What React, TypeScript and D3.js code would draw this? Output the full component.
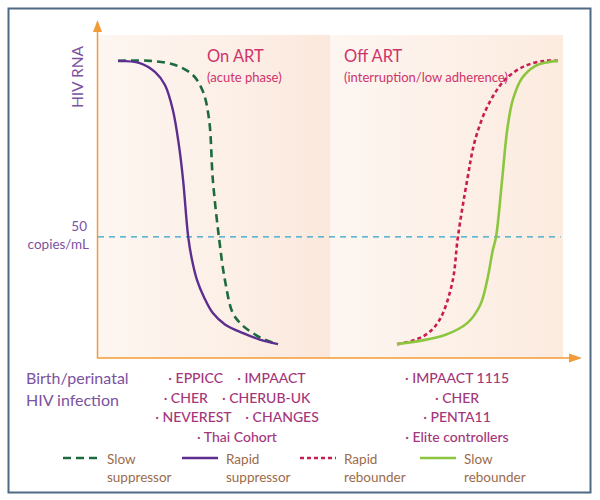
import React from "react";
import * as d3 from "d3";

// Schematic time (0-100) vs. HIV RNA level (0-100)
const rapidSuppressorX = [4.3, 9.0, 12.3, 14.4, 16.1, 17.4, 18.3, 19.4, 20.2, 21.3, 22.8, 24.7, 27.3, 31.2, 34.8, 38.7];
const rapidSuppressorY = [92, 91.3, 88.5, 84.5, 76.8, 65.9, 55.1, 37.5, 30.5, 24.1, 18.8, 13.9, 10.4, 7.7, 5.7, 4.3];

const slowSuppressorX = [4.3, 11.2, 16.6, 20.4, 22.6, 23.9, 24.7, 26.0, 27.3, 29.0, 31.0, 33.3, 36.0, 38.7];
const slowSuppressorY = [92, 92, 90.7, 87.6, 82.4, 73.7, 55.1, 37.5, 24.1, 13.9, 10.2, 7.7, 5.6, 4.3];

const rapidRebounderX = [64.3, 68.2, 71.0, 72.8, 74.2, 76.3, 77.4, 79.4, 81.1, 83.9, 87.5, 91.8, 96.1, 98.9];
const rapidRebounderY = [4.3, 5.6, 7.7, 10.4, 13.9, 24.1, 37.5, 55.1, 67.5, 78.3, 86.1, 90.4, 92, 92];

const slowRebounderX = [64.3, 69.2, 74.6, 79.4, 82.2, 83.7, 84.9, 85.6, 86.9, 88.0, 89.2, 91.2, 94.0, 96.8, 98.9];
const slowRebounderY = [4.3, 5.3, 7.1, 10.8, 16.4, 24.1, 33.4, 37.5, 55.1, 70.6, 79.9, 86.7, 90.4, 91.6, 92];

const threshold = 37.5;
const phaseSplit = 50;

const onArtStudies = ["· EPPICC    · IMPAACT", "· CHER    · CHERUB-UK", "· NEVEREST    · CHANGES", "· Thai Cohort"];
const offArtStudies = ["· IMPAACT 1115", "· CHER", "· PENTA11", "· Elite controllers"];

const legendLabels = [["Slow", "suppressor"], ["Rapid", "suppressor"], ["Rapid", "rebounder"], ["Slow", "rebounder"]];

const FONT = "Lato, 'Open Sans', sans-serif";

export default function App() {
  const x = d3.scaleLinear().domain([0, 100]).range([98, 563]);
  const y = d3.scaleLinear().domain([0, 100]).range([358, 35]);
  const line = d3
    .line<[number, number]>()
    .x((d) => x(d[0]))
    .y((d) => y(d[1]))
    .curve(d3.curveCatmullRom.alpha(0.5));
  const zip = (a: number[], b: number[]) => a.map((v, i) => [v, b[i]] as [number, number]);

  const series = [
    { pts: zip(slowSuppressorX, slowSuppressorY), color: "#1d6b3d", dash: "8,5", w: 2.6 },
    { pts: zip(rapidSuppressorX, rapidSuppressorY), color: "#5b2e90", dash: null, w: 2.4 },
    { pts: zip(rapidRebounderX, rapidRebounderY), color: "#c91d50", dash: "4,3", w: 2.6 },
    { pts: zip(slowRebounderX, slowRebounderY), color: "#8cc63f", dash: null, w: 2.6 },
  ];
  const legendX = [63, 182, 300, 420];

  return (
    <svg width={600} height={500} style={{ position: "absolute", left: 0, top: 0 }} fontFamily={FONT}>
      <defs>
        <linearGradient id="gL" x1="0" x2="1" y1="0" y2="0">
          <stop offset="0" stopColor="#fdf6f1" />
          <stop offset="0.6" stopColor="#fcefe6" />
          <stop offset="1" stopColor="#fbe8dc" />
        </linearGradient>
        <linearGradient id="gR" x1="0" x2="1" y1="0" y2="0">
          <stop offset="0" stopColor="#fdf6f1" />
          <stop offset="1" stopColor="#fcebdf" />
        </linearGradient>
      </defs>
      <rect x={0} y={0} width={600} height={500} fill="#fff" />
      <rect x={8.5} y={8.5} width={582} height={484} fill="none" stroke="#4e6a84" strokeWidth={2} />

      <rect x={x(0)} y={y(100)} width={x(phaseSplit) - x(0)} height={y(0) - y(100)} fill="url(#gL)" />
      <rect x={x(phaseSplit)} y={y(100)} width={x(100) - x(phaseSplit)} height={y(0) - y(100)} fill="url(#gR)" />

      {/* threshold */}
      <line x1={x(0)} x2={x(99.5)} y1={y(threshold)} y2={y(threshold)} stroke="#2fa3c9" strokeWidth={1.2} strokeDasharray="6,5" />

      {/* axes */}
      <line x1={x(0) - 0.5} x2={x(0) - 0.5} y1={y(0)} y2={30} stroke="#f29b38" strokeWidth={1.5} />
      <path d={`M${x(0) - 0.5},20 L${x(0) - 5},32 L${x(0) + 4},32 Z`} fill="#f29b38" />
      <line x1={x(0) - 1} x2={572} y1={y(0)} y2={y(0)} stroke="#f29b38" strokeWidth={1.5} />
      <path d={`M582,${y(0)} L569,${y(0) - 4.5} L569,${y(0) + 4.5} Z`} fill="#f29b38" />

      {series.map((s, i) => (
        <path key={i} d={line(s.pts) || ""} fill="none" stroke={s.color} strokeWidth={s.w}
          strokeDasharray={s.dash || undefined} />
      ))}

      {/* axis labels */}
      <text transform="translate(83,77) rotate(-90)" textAnchor="middle" fontSize={15.5} fill="#7b52a0">HIV RNA</text>
      <text x={87} y={231} textAnchor="end" fontSize={13.5} fill="#7b52a0">50</text>
      <text x={89} y={249} textAnchor="end" fontSize={13.5} fill="#7b52a0">copies/mL</text>

      <text x={207} y={62} fontSize={16.5} fill="#d0336b">On ART</text>
      <text x={207} y={82} fontSize={13} fill="#d0336b">(acute phase)</text>
      <text x={344} y={62} fontSize={16.5} fill="#d0336b">Off ART</text>
      <text x={344} y={82} fontSize={13} fill="#d0336b">(interruption/low adherence)</text>

      <text x={26} y={384} fontSize={16} fill="#7b52a0">Birth/perinatal</text>
      <text x={26} y={406} fontSize={16} fill="#7b52a0">HIV infection</text>

      {onArtStudies.map((t, i) => (
        <text key={t} x={237} y={383 + i * 19.7} textAnchor="middle" fontSize={14} fill="#a4367a" fontWeight={500} style={{ whiteSpace: "pre" }}>{t}</text>
      ))}
      {offArtStudies.map((t, i) => (
        <text key={t} x={457} y={383 + i * 19.7} textAnchor="middle" fontSize={14} fill="#a4367a" fontWeight={500}>{t}</text>
      ))}

      {/* legend */}
      {series.map((s, i) => (
        <g key={i}>
          <line x1={legendX[i]} x2={legendX[i] + 36} y1={458} y2={458} stroke={s.color} strokeWidth={2.6}
            strokeDasharray={s.dash || undefined} />
          <text x={legendX[i] + 44} y={464} fontSize={13.5} fill="#9b6b4b">{legendLabels[i][0]}</text>
          <text x={legendX[i] + 44} y={482} fontSize={13.5} fill="#9b6b4b">{legendLabels[i][1]}</text>
        </g>
      ))}
    </svg>
  );
}
